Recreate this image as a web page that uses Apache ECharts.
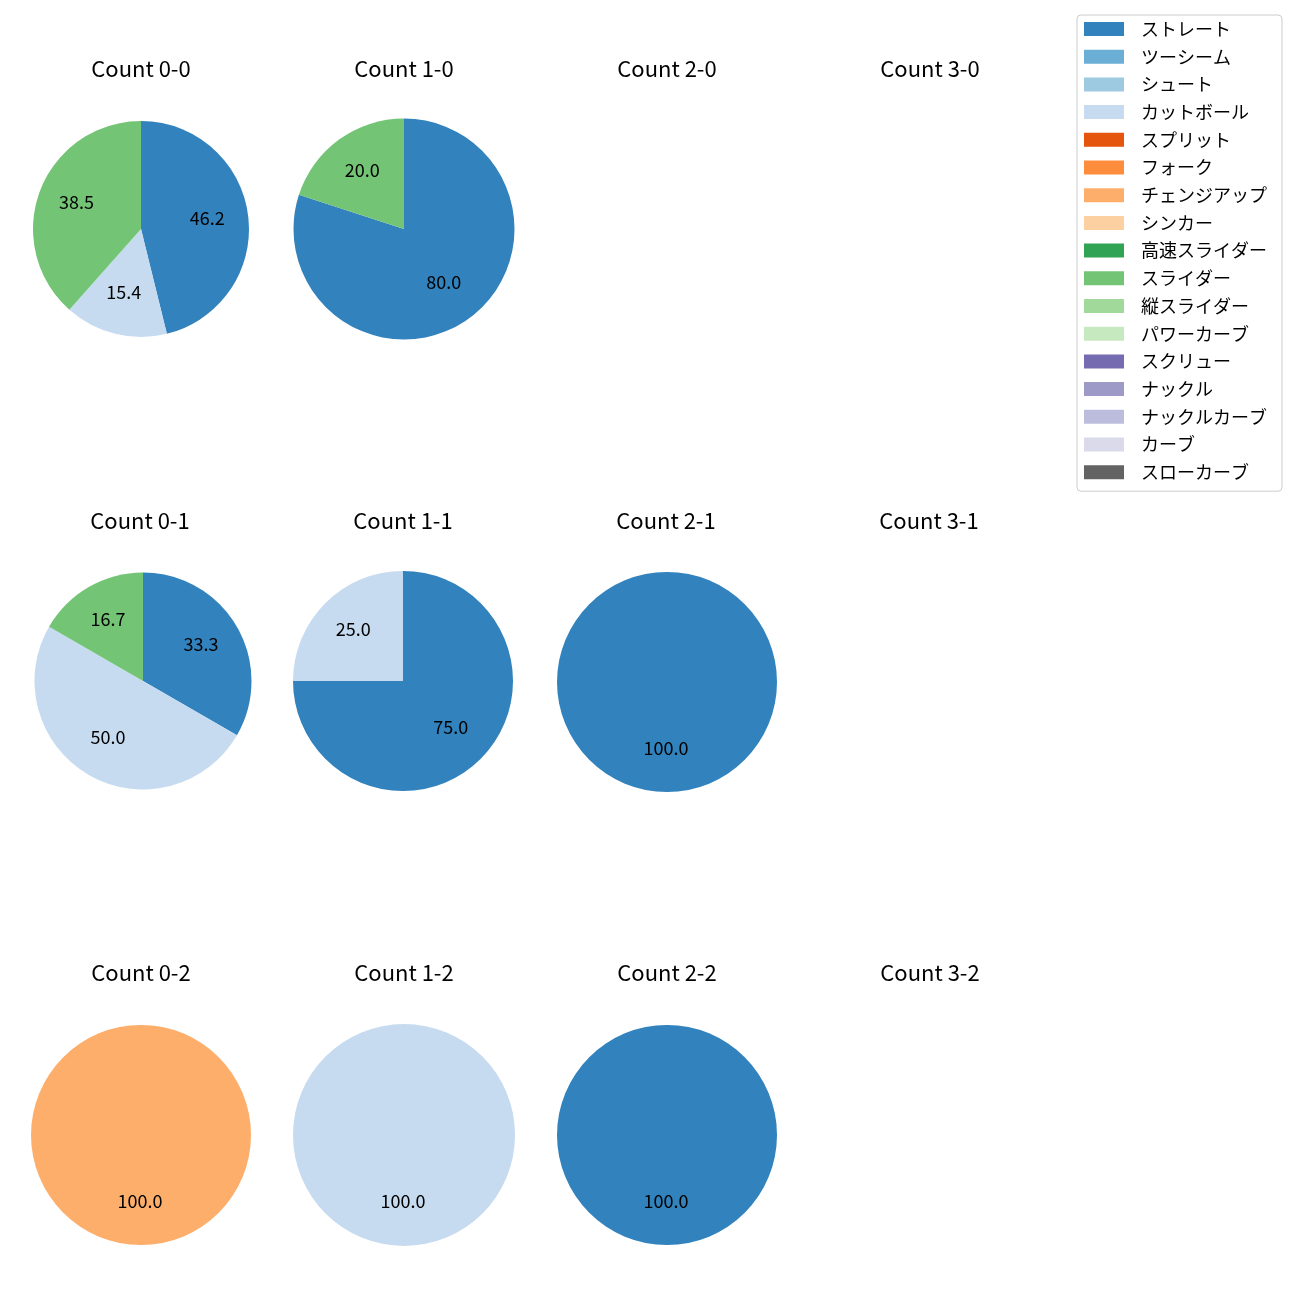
<!DOCTYPE html>
<html><head><meta charset="utf-8">
<script src="https://cdn.jsdelivr.net/npm/echarts@6/dist/echarts.min.js"></script>
<style>html,body{margin:0;padding:0;background:#fff}#c{width:1300px;height:1300px}</style>
</head><body><div id="c"></div>
<script>
const pitchTypes = ['ストレート','ツーシーム','シュート','カットボール','スプリット','フォーク','チェンジアップ','シンカー','高速スライダー','スライダー','縦スライダー','パワーカーブ','スクリュー','ナックル','ナックルカーブ','カーブ','スローカーブ'];
const pitchColors = ['#3182bd','#6baed6','#9ecae1','#c6dbef','#e6550d','#fd8d3c','#fdae6b','#fdd0a2','#31a354','#74c476','#a1d99b','#c7e9c0','#756bb1','#9e9ac8','#bcbddc','#dadaeb','#636363'];
const panelTitles = ['Count 0-0','Count 1-0','Count 2-0','Count 3-0','Count 0-1','Count 1-1','Count 2-1','Count 3-1','Count 0-2','Count 1-2','Count 2-2','Count 3-2'];
// pitch counts per pitch type (order of pitchTypes)
const count00 = [6,0,0,2,0,0,0,0,0,5,0,0,0,0,0,0,0];
const count10 = [4,0,0,0,0,0,0,0,0,1,0,0,0,0,0,0,0];
const count20 = [];
const count30 = [];
const count01 = [2,0,0,3,0,0,0,0,0,1,0,0,0,0,0,0,0];
const count11 = [3,0,0,1,0,0,0,0,0,0,0,0,0,0,0,0,0];
const count21 = [1,0,0,0,0,0,0,0,0,0,0,0,0,0,0,0,0];
const count31 = [];
const count02 = [0,0,0,0,0,0,1,0,0,0,0,0,0,0,0,0,0];
const count12 = [0,0,0,1,0,0,0,0,0,0,0,0,0,0,0,0,0];
const count22 = [1,0,0,0,0,0,0,0,0,0,0,0,0,0,0,0,0];
const count32 = [];
const panels = [count00,count10,count20,count30,count01,count11,count21,count31,count02,count12,count22,count32];

// layout (pixels)
const panelCenters = [[141,229],[404,229],[667,229],[930,229],
                      [143,681],[403,681],[667,682],[930,681],
                      [141,1135],[404,1135],[667,1135],[930,1135]];
const panelRadius = [108,110.5,110,110, 108.5,110,110,110, 110,111,110,110];
const titleX = [141,404,667,930];
const titleY = [69,521,973];
const FONT = '"Noto Sans CJK JP", "Noto Sans", sans-serif';

const titles = [];
const series = [];
panels.forEach((vals, i) => {
  const [cx, cy] = panelCenters[i];
  const R = panelRadius[i];
  const row = Math.floor(i / 4);
  titles.push({text: panelTitles[i], left: titleX[i % 4] - (row === 1 ? 1 : 0),
    top: titleY[row] - 11, textAlign: 'center', padding: 0,
    textStyle: {fontFamily: FONT, fontSize: 22, fontWeight: 'normal', color: '#000'}});
  const data = [];
  vals.forEach((v, k) => { if (v > 0) data.push({name: pitchTypes[k], value: v, itemStyle: {color: pitchColors[k]}}); });
  if (!data.length) return;
  const total = data.reduce((s, d) => s + d.value, 0);
  series.push({type: 'pie', center: [cx, cy], radius: R, startAngle: 90, clockwise: true,
    data: data, label: {show: false}, labelLine: {show: false}, silent: true, animation: false,
    itemStyle: {borderWidth: 0}, emphasis: {disabled: true}});
  series.push({type: 'pie', center: [cx - 1, cy - 3], radius: R * 1.2, startAngle: 90, clockwise: true,
    data: data.map(d => ({name: d.name, value: d.value, itemStyle: {color: 'rgba(0,0,0,0)'}})),
    label: {show: true, position: 'inside', formatter: p => (p.value / total * 100).toFixed(1),
      fontFamily: FONT, fontSize: 18, color: '#000'},
    labelLine: {show: false}, silent: true, animation: false, legendHoverLink: false,
    itemStyle: {borderWidth: 0}, emphasis: {disabled: true}, tooltip: {show: false}});
});

// legend entries for all pitch types
series.push({type: 'pie', radius: 0, center: [-100, -100], silent: true, animation: false,
  data: pitchTypes.map((n, k) => ({name: n, value: 1, itemStyle: {color: pitchColors[k]}})),
  label: {show: false}, labelLine: {show: false}});

const chart = echarts.init(document.getElementById('c'), null, {renderer: 'canvas'});
chart.setOption({
  animation: false,
  title: titles,
  legend: {orient: 'vertical', left: 1077, top: 15, padding: [5, 15, 10, 7],
    data: pitchTypes, itemWidth: 40, itemHeight: 14, itemGap: 9.7, icon: 'rect',
    borderColor: '#cccccc', borderWidth: 1, borderRadius: 4, selectedMode: false,
    textStyle: {fontFamily: FONT, fontSize: 18, color: '#000', padding: [0, 0, 0, 12]}},
  series: series
});
</script></body></html>
